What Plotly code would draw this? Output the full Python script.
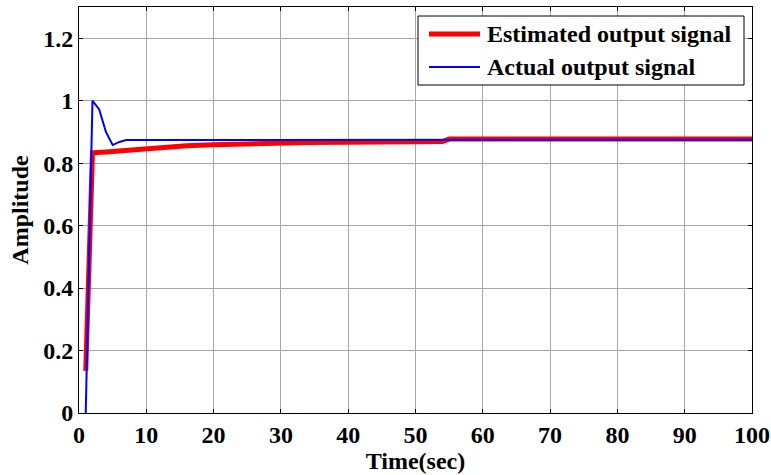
import plotly.graph_objects as go

# Data
est_t = [1, 2, 4, 6, 8, 10, 13, 16, 20, 25, 30, 34, 40, 47, 54, 55, 100]
est_y = [0.135, 0.833, 0.836, 0.840, 0.844, 0.848, 0.852, 0.856, 0.859, 0.862,
         0.864, 0.866, 0.867, 0.868, 0.869, 0.877, 0.877]

act_t = [1, 2, 3, 4, 5, 6, 7, 34, 35, 100]
act_y = [0, 1.0, 0.972, 0.90, 0.858, 0.868, 0.874, 0.874, 0.875, 0.875]

series_names = ["Estimated output signal", "Actual output signal"]
series_colors = ["#ff0000", "#0000ff"]
series_widths = [5, 2]

x_ticks = [0, 10, 20, 30, 40, 50, 60, 70, 80, 90, 100]
x_ticktext = ["0", "10", "20", "30", "40", "50", "60", "70", "80", "90", "100"]
y_ticks = [0, 0.2, 0.4, 0.6, 0.8, 1.0, 1.2]
y_ticktext = ["0", "0.2", "0.4", "0.6", "0.8", "1", "1.2"]

FONT = "Liberation Serif"
W, H = 771, 475
ML, MR, MT, MB = 79, 19, 7, 62
PW, PH = W - ML - MR, H - MT - MB


def px(x):
    return (x - ML) / PW


def py(y):
    return (H - MB - y) / PH


fig = go.Figure()
for t, v, name, col, wd in zip([est_t, act_t], [est_y, act_y], series_names, series_colors, series_widths):
    fig.add_trace(go.Scatter(x=t, y=v, mode="lines", name=name,
                             line=dict(color=col, width=wd), showlegend=False))

axis_common = dict(showline=True, linecolor="black", linewidth=1, mirror="allticks",
                   ticks="inside", ticklen=4, tickcolor="black", automargin=False,
                   showgrid=True, gridcolor="#a8a8a8", gridwidth=1, zeroline=False,
                   tickfont=dict(family=FONT, size=24, color="black", weight="bold"))

fig.update_xaxes(range=[0, 100], tickvals=x_ticks, ticktext=x_ticktext,
                 title=dict(text="Time(sec)", font=dict(family=FONT, size=24, color="black", weight="bold"),
                            standoff=0),
                 **axis_common)
fig.update_yaxes(range=[0, 1.3], tickvals=y_ticks, ticktext=y_ticktext,
                 title=dict(text="Amplitude", font=dict(family=FONT, size=24, color="black", weight="bold"),
                            standoff=7),
                 **axis_common)

# Legend box (MATLAB style) built from shapes and annotations
shapes = [dict(type="rect", xref="paper", yref="paper",
               x0=px(418), x1=px(744), y0=py(85), y1=py(16),
               line=dict(color="black", width=1), fillcolor="white", layer="above")]
annotations = []
for i, (name, col, wd) in enumerate(zip(series_names, series_colors, series_widths)):
    yy = py(34 + 33 * i)
    shapes.append(dict(type="line", xref="paper", yref="paper",
                       x0=px(429), x1=px(480), y0=yy, y1=yy,
                       line=dict(color=col, width=wd), layer="above"))
    annotations.append(dict(xref="paper", yref="paper", x=px(485), y=yy,
                            xanchor="left", yanchor="middle", showarrow=False,
                            text=name,
                            font=dict(family=FONT, size=24, color="black", weight="bold")))

fig.update_layout(
    width=W, height=H,
    margin=dict(l=ML, r=MR, t=MT, b=MB, autoexpand=False),
    plot_bgcolor="white", paper_bgcolor="white",
    showlegend=False,
    shapes=shapes, annotations=annotations,
)

fig.write_html("out.html", config={"displayModeBar": False},
               post_script="document.body.style.margin='0';document.body.style.padding='0';")
